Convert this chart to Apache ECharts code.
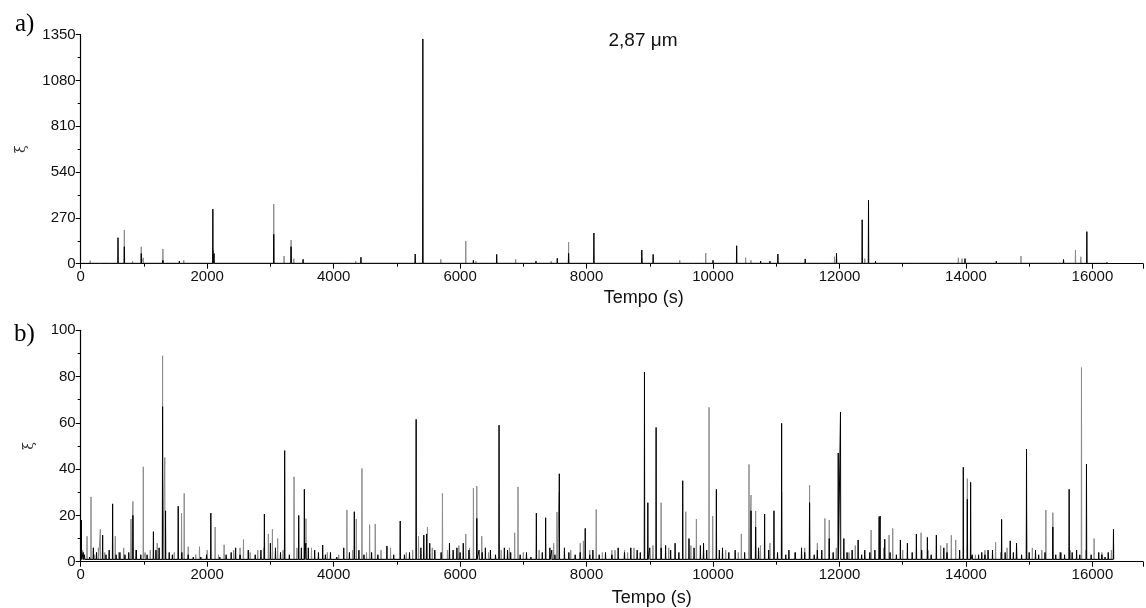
<!DOCTYPE html>
<html>
<head>
<meta charset="utf-8">
<script src="https://cdn.jsdelivr.net/npm/echarts@6/dist/echarts.min.js"></script>
<style>
html,body{margin:0;padding:0;background:#fff;}
#chart{width:1146px;height:608px;}
</style>
</head>
<body>
<div id="chart"></div>
<script>
// ---- Data ----
const xTicks = [0, 2000, 4000, 6000, 8000, 10000, 12000, 14000, 16000];
const yTicksA = [0, 270, 540, 810, 1080, 1350];
const yTicksB = [0, 20, 40, 60, 80, 100];
const panelTitle = '2,87 \u03bcm';

// floor level of the signal between events
const baseA = 2;
const baseB = 1;

// panel a) black trace: event times (s) and peak values
const aBlackT = [20, 300, 480, 590, 690, 958, 1300, 1560, 2090, 2110, 3053, 3327, 3517, 4200, 4432, 5290, 5411, 6210, 6579, 7200, 7537, 7716, 8116, 8874, 9053, 9700, 10000, 10374, 10753, 10900, 11026, 11458, 11711, 11953, 12359, 12459, 12570, 13200, 13985, 14480, 15543, 15912, 16232];
const aBlackV = [8, 6, 10, 153, 100, 60, 20, 15, 322, 60, 173, 100, 26, 12, 38, 57, 1325, 20, 55, 15, 32, 61, 181, 81, 55, 12, 20, 106, 15, 15, 57, 28, 10, 61, 259, 374, 15, 10, 30, 15, 25, 189, 10];
// panel a) grey trace
const aGreyT = [150, 690, 820, 958, 990, 1300, 1630, 2100, 3053, 3216, 3327, 3370, 4100, 4350, 5000, 5695, 6090, 6250, 6879, 7440, 7716, 8000, 8874, 9474, 9885, 10516, 10600, 11921, 12400, 13880, 13938, 14870, 15250, 15732, 15817];
const aGreyV = [18, 199, 15, 100, 35, 87, 20, 80, 352, 45, 140, 30, 10, 15, 10, 26, 134, 15, 26, 15, 126, 8, 30, 20, 63, 35, 20, 41, 30, 35, 30, 45, 12, 81, 41];

// panel b) black trace: large events
const bBlackT = [10, 40, 200, 347, 505, 620, 700, 826, 880, 1050, 1150, 1240, 1295, 1342, 1400, 1542, 1700, 1900, 2058, 2300, 2450, 2650, 2905, 3000, 3226, 3448, 3537, 3600, 3700, 3827, 3950, 4160, 4327, 4400, 4843, 5053, 5200, 5305, 5426, 5470, 5600, 5832, 5950, 6050, 6264, 6300, 6400, 6616, 6700, 6800, 7206, 7353, 7450, 7569, 7650, 7979, 8100, 8300, 8500, 8700, 8916, 8969, 9100, 9250, 9400, 9521, 9620, 9800, 9850, 10053, 10150, 10350, 10601, 10674, 10816, 10964, 11085, 11200, 11400, 11527, 11650, 11838, 11980, 12016, 12069, 12295, 12400, 12627, 12643, 12716, 12963, 13074, 13216, 13390, 13532, 13650, 13958, 14022, 14074, 14200, 14350, 14564, 14700, 14800, 14958, 15100, 15374, 15500, 15632, 15750, 15906, 16100, 16250, 16333];
const bBlackV = [18, 4, 6, 11.5, 25, 4, 3, 20, 5, 3, 13, 6, 67, 22, 4, 24, 3, 2, 21, 3, 6, 5, 20.6, 8, 48, 20, 31.3, 6, 5, 7.2, 4, 6, 21.6, 5, 6.8, 17.6, 4, 61.5, 11.5, 12, 5, 8, 6, 8, 18.7, 5, 6, 59, 6, 4, 21, 19, 5, 38, 6, 14.4, 5, 4, 6, 6, 82, 25.5, 58, 7, 8, 35, 10, 7, 8, 31.3, 6, 5, 22, 15, 20.6, 22, 59.8, 5, 6, 25.5, 5, 10, 47, 64.7, 10, 9.4, 5, 19.5, 19.7, 9.7, 9.4, 8, 12, 10.5, 11.5, 6, 40.8, 27, 34.3, 3, 5, 18.3, 9, 8, 48.7, 5, 15, 4, 31.3, 5, 42.2, 4, 4, 14];
// panel b) black trace: small events near the floor
const bBlackSmallT = [60, 140, 250, 400, 450, 560, 760, 950, 1190, 1450, 1600, 1780, 1990, 2200, 2380, 2520, 2760, 2850, 3080, 3160, 3300, 3490, 3560, 3760, 3870, 4050, 4250, 4480, 4600, 4700, 4950, 5120, 5380, 5520, 5700, 5890, 6000, 6140, 6350, 6480, 6560, 6750, 6950, 7050, 7120, 7300, 7420, 7500, 7720, 7820, 7900, 8050, 8200, 8400, 8600, 8800, 8850, 9000, 9180, 9330, 9460, 9700, 9900, 10100, 10250, 10500, 10720, 10880, 11020, 11150, 11300, 11450, 11600, 11720, 11900, 12120, 12200, 12350, 12480, 12560, 12800, 12900, 13150, 13300, 13450, 13700, 13900, 14100, 14250, 14300, 14420, 14620, 14750, 14880, 15000, 15150, 15250, 15420, 15560, 15680, 15800, 15980, 16150, 16200];
const bBlackSmallV = [3, 2, 4, 3, 5, 3, 4, 3, 5, 3, 4, 2, 3, 2, 4, 3, 3, 5, 6, 4, 3, 6, 8, 4, 3, 2, 4, 3, 4, 3, 3, 3, 6, 8, 4, 5, 4, 5, 4, 5, 3, 5, 3, 4, 2, 4, 6, 3, 4, 3, 4, 3, 3, 3, 4, 5, 4, 6, 6, 5, 4, 6, 5, 5, 4, 4, 6, 5, 4, 3, 4, 4, 3, 5, 4, 4, 5, 3, 4, 5, 4, 3, 4, 5, 3, 4, 5, 3, 4, 3, 5, 4, 4, 3, 4, 3, 4, 3, 3, 4, 3, 3, 3, 2];
// panel b) grey trace: large events
const bGreyT = [100, 163, 311, 547, 795, 826, 990, 1100, 1295, 1330, 1595, 1637, 1700, 1879, 2126, 2268, 2520, 2574, 2800, 2968, 3032, 3115, 3374, 3563, 3650, 4210, 4358, 4448, 4569, 4658, 4900, 5342, 5484, 5721, 6090, 6211, 6264, 6343, 6863, 6916, 7532, 7569, 7900, 8153, 8400, 8600, 9179, 9569, 9737, 9937, 9995, 10448, 10569, 10601, 10674, 11085, 11527, 11769, 11838, 12500, 12784, 12842, 13290, 13769, 13838, 14022, 14469, 14958, 15264, 15374, 15827, 16027, 16300];
const bGreyV = [11, 28, 14, 11, 18.4, 26, 41, 5, 89, 45, 21, 29.5, 6.5, 6.5, 15, 7.3, 6, 9.6, 5, 12, 14, 10, 36.7, 18.6, 6, 22.3, 18.4, 40.3, 16, 16.3, 6, 11, 15, 29.5, 12, 31.8, 32.7, 11, 12.5, 32.3, 21.5, 30, 8, 22.6, 5, 5, 25.5, 21.6, 18.4, 66.7, 19.7, 12, 42, 28.8, 21.9, 30, 33, 18.7, 18, 13.7, 11.5, 14.4, 12.5, 11.4, 9.4, 35.9, 8.4, 22, 22.3, 21.2, 83.9, 10, 5];
// panel b) grey trace: small events near the floor
const bGreySmallT = [30, 220, 280, 380, 600, 680, 870, 1020, 1210, 1480, 1820, 2000, 2180, 2420, 2680, 2900, 3200, 3420, 3900, 4080, 4300, 4520, 4750, 5150, 5250, 5560, 5800, 5980, 6150, 6450, 6650, 6780, 7000, 7250, 7480, 7750, 7950, 8050, 8250, 8450, 8650, 8750, 9050, 9300, 9650, 9850, 10200, 10400, 10750, 10900, 11300, 11450, 11650, 11950, 12150, 12250, 12700, 13000, 13400, 13600, 13700, 14150, 14300, 14550, 14650, 14800, 15050, 15200, 15480, 15650, 15900, 16150];
const bGreySmallV = [5, 3, 6, 4, 4, 6, 5, 4, 8, 4, 3, 5, 3, 5, 4, 6, 5, 6, 4, 3, 5, 4, 5, 4, 5, 6, 5, 7, 6, 4, 5, 6, 4, 5, 8, 5, 9, 5, 4, 5, 4, 6, 7, 6, 7, 5, 5, 4, 7, 8, 4, 6, 8, 6, 4, 7, 6, 5, 5, 7, 8, 3, 5, 4, 6, 7, 6, 5, 4, 5, 5, 4];

// each event is drawn as a narrow spike that returns to the floor level
function trace(ts, vs, base) {
  const ev = ts.map((t, i) => [t, vs[i]]).sort((a, b) => a[0] - b[0]);
  const out = [];
  for (const [t, v] of ev) {
    out.push([t - 4, base], [t, v], [t + 4, base]);
  }
  return out;
}

const chart = echarts.init(document.getElementById('chart'), null, {renderer: 'canvas'});
const font = "'Liberation Sans', Arial, sans-serif";
const axisColor = '#000';

function xAxis(gridIndex, namePad, gap) {
  return {
    type: 'value', gridIndex, min: xTicks[0], max: 16800, interval: xTicks[1] - xTicks[0],
    name: 'Tempo (s)', nameLocation: 'middle', nameGap: gap,
    nameTextStyle: {fontFamily: font, fontSize: 18, color: '#111', padding: [0, 0, 0, namePad]},
    axisLine: {lineStyle: {color: axisColor, width: 1.2}},
    axisTick: {show: true, length: 5, lineStyle: {color: axisColor}},
    minorTick: {show: true, splitNumber: 2, length: 3, lineStyle: {color: axisColor}},
    axisLabel: {fontFamily: font, fontSize: 15, color: '#111', margin: 6, showMaxLabel: false,
      formatter: v => (xTicks.indexOf(v) >= 0 ? String(v) : '')},
    splitLine: {show: false}
  };
}
function yAxis(gridIndex, ticks, gap) {
  return {
    type: 'value', gridIndex, min: ticks[0], max: ticks[ticks.length - 1], interval: ticks[1] - ticks[0],
    name: '\u03be', nameLocation: 'middle', nameGap: gap, nameRotate: 90,
    nameTextStyle: {fontFamily: "'DejaVu Serif', serif", fontSize: 14, color: '#333'},
    axisLine: {show: true, lineStyle: {color: axisColor, width: 1.2}},
    axisTick: {show: true, length: 5, lineStyle: {color: axisColor}},
    minorTick: {show: true, splitNumber: 2, length: 3, lineStyle: {color: axisColor}},
    axisLabel: {fontFamily: font, fontSize: 15, color: '#111', margin: 5, formatter: v => String(v)},
    splitLine: {show: false}
  };
}
function lineSeries(x, data, color) {
  return {
    type: 'line', xAxisIndex: x, yAxisIndex: x, data, showSymbol: false, symbol: 'none',
    lineStyle: {color, width: 1}, silent: true, animation: false
  };
}

chart.setOption({
  animation: false,
  backgroundColor: '#fff',
  title: [
    {text: panelTitle, left: 638, top: 26, textAlign: 'center',
     textStyle: {fontFamily: font, fontSize: 19, fontWeight: 'normal', color: '#111'}},
    {text: 'a)', left: 10, top: 7,
     textStyle: {fontFamily: "'Liberation Serif', 'Times New Roman', serif", fontSize: 25, fontWeight: 'normal', color: '#000'}},
    {text: 'b)', left: 9, top: 317,
     textStyle: {fontFamily: "'Liberation Serif', 'Times New Roman', serif", fontSize: 25, fontWeight: 'normal', color: '#000'}}
  ],
  grid: [
    {left: 80.7, right: 3, top: 34.7, height: 229},
    {left: 80.7, right: 3, top: 330.3, height: 231.4}
  ],
  xAxis: [xAxis(0, 64, 25), xAxis(1, 80, 27)],
  yAxis: [yAxis(0, yTicksA, 52), yAxis(1, yTicksB, 44)],
  series: [
    lineSeries(0, trace(aGreyT, aGreyV, baseA), '#8c8c8c'),
    lineSeries(0, trace(aBlackT, aBlackV, baseA), '#000'),
    lineSeries(1, trace(bGreySmallT.concat(bGreyT), bGreySmallV.concat(bGreyV), baseB), '#8c8c8c'),
    lineSeries(1, trace(bBlackSmallT.concat(bBlackT), bBlackSmallV.concat(bBlackV), baseB), '#000')
  ]
});
</script>
</body>
</html>
